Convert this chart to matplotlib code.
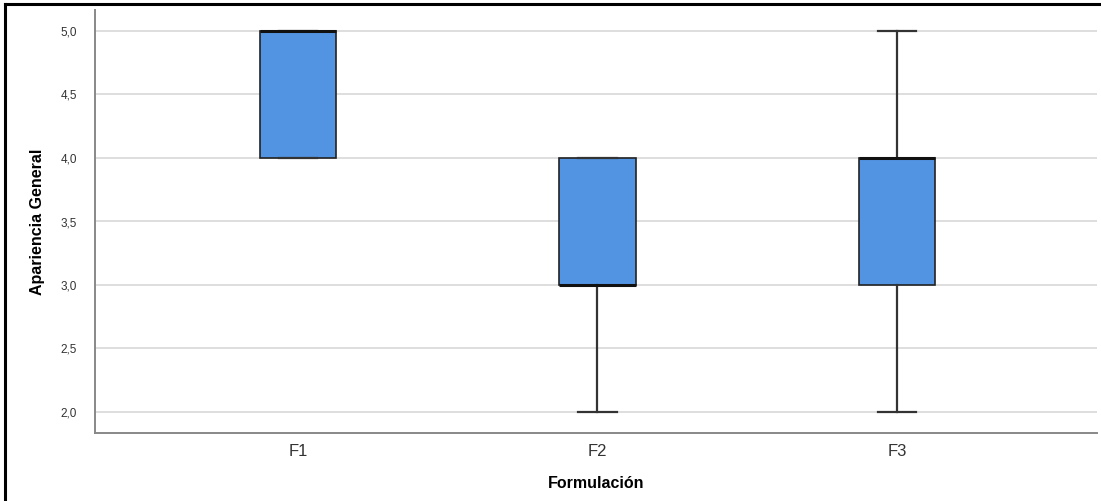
import matplotlib.pyplot as plt
from matplotlib.lines import Line2D
from matplotlib.ticker import FuncFormatter

plt.rcParams['font.family'] = ['Liberation Sans', 'DejaVu Sans']

# Box plot summary per formulation
categories = ["F1", "F2", "F3"]
whislo = [4.0, 2.0, 2.0]
q1 = [4.0, 3.0, 3.0]
med = [5.0, 3.0, 4.0]
q3 = [5.0, 4.0, 4.0]
whishi = [5.0, 4.0, 5.0]

box_color = "#5294e2"

fig = plt.figure(figsize=(11.01, 5.01), dpi=100)
ax = fig.add_axes([95 / 1101, 1 - 433 / 501, (1097 - 95) / 1101, (433 - 10) / 501])

stats = []
for i, name in enumerate(categories):
    stats.append(dict(label=name, whislo=whislo[i], q1=q1[i], med=med[i],
                      q3=q3[i], whishi=whishi[i], fliers=[]))

positions = list(range(1, len(categories) + 1))
ax.bxp(stats, positions=positions, widths=0.255, capwidths=0.127,
       patch_artist=True, showfliers=False,
       boxprops=dict(facecolor=box_color, edgecolor="#222222", linewidth=1.2),
       medianprops=dict(color="#111111", linewidth=2.2),
       whiskerprops=dict(color="#333333", linewidth=1.6),
       capprops=dict(color="#333333", linewidth=1.6))

ax.set_xlim(0.323, 3.667)
ax.set_ylim(2 - 21 / 127, 5 + 21 / 127)
ax.set_yticks([2.0, 2.5, 3.0, 3.5, 4.0, 4.5, 5.0])
ax.yaxis.set_major_formatter(FuncFormatter(lambda v, p: f"{v:.1f}".replace(".", ",")))
ax.grid(axis="y", color="#d4d4d4", linewidth=1.1)
ax.set_axisbelow(True)

for s in ["top", "right"]:
    ax.spines[s].set_visible(False)
for s in ["left", "bottom"]:
    ax.spines[s].set_color("#888888")
    ax.spines[s].set_linewidth(1.4)

ax.tick_params(axis="y", length=0, labelsize=8.5, colors="#333333", pad=13)
ax.tick_params(axis="x", length=0, labelsize=12, colors="#333333", pad=8)

ax.set_xlabel("Formulación", fontsize=11.5, fontweight="bold", labelpad=12)
ax.set_ylabel("Apariencia General", fontsize=11.5, fontweight="bold", labelpad=11)

# outer frame of the exported picture (only top and left edges visible)
fig.add_artist(Line2D([5 / 1101, 5 / 1101], [0, 1 - 4 / 501], color="black", linewidth=2.2))
fig.add_artist(Line2D([5 / 1101, 1], [1 - 4 / 501, 1 - 4 / 501], color="black", linewidth=2.2))

fig.savefig("out.png", dpi=100)
